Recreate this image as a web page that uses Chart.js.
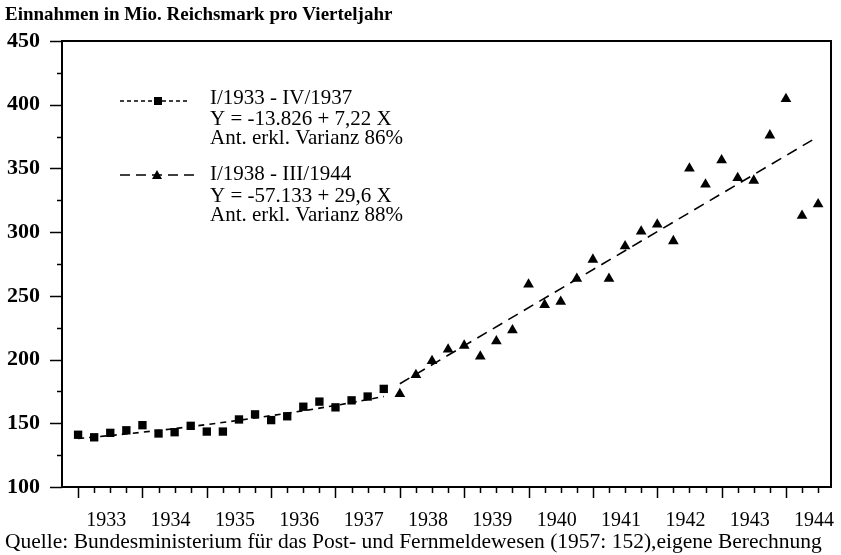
<!DOCTYPE html>
<html>
<head>
<meta charset="utf-8">
<script src="https://cdn.jsdelivr.net/npm/chart.js@4"></script>
<style>
  html, body { margin: 0; padding: 0; background: #fff; }
  #wrap { width: 841px; height: 555px; position: relative; }
</style>
</head>
<body>
<div id="wrap"><canvas id="grafico"></canvas></div>
<script>
// Einnahmen pro Quartal, Index 0 = I/1933
const yearLabels = ['1933', '1934', '1935', '1936', '1937', '1938', '1939', '1940', '1941', '1942', '1943', '1944'];

// I/1933 - IV/1937 (Quadrate)
const revenue1933to1937 = [141, 139, 142.5, 144.5, 148.5, 142, 143, 148, 143.5, 143.5,
                           153, 157, 152.5, 155.5, 163, 167, 162.5, 168, 171, 177];
// I/1938 - III/1944 (Dreiecke)
const revenue1938to1944 = [173, 188, 199, 208, 211, 202.5, 214.5, 223, 259, 243, 245.5, 263.5, 278.5, 263.5,
                           289, 300.5, 306, 293, 350, 337.5, 356.5, 342.5, 340.5, 376, 404.5, 313, 322];

// Trendlinien
const trend1Quarters = [0, 4, 8, 12, 16, 19];
const trend1Values = [138, 143, 149, 156, 164, 171];
const trend2Quarters = [20, 46];
const trend2Values = [181, 375];

const serif = '"Liberation Serif", "Times New Roman", serif';

const squarePoints = revenue1933to1937.map((v, i) => ({ x: i, y: v }));
const trianglePoints = revenue1938to1944.map((v, i) => ({ x: 20 + i, y: v }));
const trend1Points = trend1Quarters.map((q, i) => ({ x: q, y: trend1Values[i] }));
const trend2Points = trend2Quarters.map((q, i) => ({ x: q, y: trend2Values[i] }));

// Rahmen, Teilstriche, Legende, Titel und Quelle
const decor = {
  id: 'decor',
  afterDraw(chart) {
    const { ctx, chartArea: a, scales: { x, y } } = chart;
    ctx.save();
    ctx.strokeStyle = '#000';
    ctx.lineWidth = 2;
    ctx.strokeRect(a.left, a.top, a.right - a.left, a.bottom - a.top);

    // y-Teilstriche: alle 25, lang bei 50
    ctx.lineWidth = 1.5;
    for (let v = 100; v <= 450; v += 25) {
      const py = Math.round(y.getPixelForValue(v)) + 0.5;
      const len = v % 50 === 0 ? 12 : 5;
      ctx.beginPath();
      ctx.moveTo(a.left - len, py);
      ctx.lineTo(a.left, py);
      ctx.stroke();
    }
    // x-Teilstriche: Quartale, lang am Jahresanfang
    for (let q = 0; q <= 46; q++) {
      const px = Math.round(x.getPixelForValue(q)) + 0.5;
      const len = q % 4 === 0 ? 11 : 6;
      ctx.beginPath();
      ctx.moveTo(px, a.bottom);
      ctx.lineTo(px, a.bottom + len);
      ctx.stroke();
    }

    ctx.fillStyle = '#000';
    ctx.textBaseline = 'middle';
    ctx.textAlign = 'left';
    ctx.font = 'bold 19px ' + serif;
    ctx.fillText('Einnahmen in Mio. Reichsmark pro Vierteljahr', 5, 15);
    ctx.font = '21.5px ' + serif;
    ctx.fillText('Quelle: Bundesministerium für das Post- und Fernmeldewesen (1957: 152),eigene Berechnung', 5, 542);

    // Legende
    ctx.lineWidth = 1.5;
    ctx.setLineDash([4, 3]);
    ctx.beginPath(); ctx.moveTo(120, 101); ctx.lineTo(190, 101); ctx.stroke();
    ctx.setLineDash([10, 6]);
    ctx.beginPath(); ctx.moveTo(120, 175); ctx.lineTo(194, 175); ctx.stroke();
    ctx.setLineDash([]);
    ctx.fillRect(154, 97, 8, 8);
    ctx.beginPath();
    ctx.moveTo(157, 170); ctx.lineTo(162, 179); ctx.lineTo(152, 179); ctx.closePath(); ctx.fill();

    ctx.font = '21px ' + serif;
    const lines1 = ['I/1933 - IV/1937', 'Y = -13.826 + 7,22 X', 'Ant. erkl. Varianz 86%'];
    const lines2 = ['I/1938 - III/1944', 'Y = -57.133 + 29,6 X', 'Ant. erkl. Varianz 88%'];
    [98, 119, 138].forEach((ty, i) => ctx.fillText(lines1[i], 210, ty));
    [174, 196, 215].forEach((ty, i) => ctx.fillText(lines2[i], 210, ty));
    ctx.restore();
  }
};

const ctx = document.getElementById('grafico').getContext('2d');
const grafico = new Chart(ctx, {
  type: 'scatter',
  data: {
    datasets: [
      {
        label: 'I/1933 - IV/1937',
        data: squarePoints,
        pointStyle: 'rect',
        pointRadius: 5.9,
        backgroundColor: '#000',
        borderColor: '#000',
        borderWidth: 0
      },
      {
        label: 'I/1938 - III/1944',
        data: trianglePoints,
        pointStyle: 'triangle',
        pointRadius: 6.2,
        backgroundColor: '#000',
        borderColor: '#000',
        borderWidth: 0
      },
      {
        label: 'Trend 1933-1937',
        data: trend1Points,
        showLine: true,
        tension: 0.4,
        pointRadius: 0,
        borderColor: '#000',
        borderWidth: 1.6,
        borderDash: [6, 5]
      },
      {
        label: 'Trend 1938-1944',
        data: trend2Points,
        showLine: true,
        pointRadius: 0,
        borderColor: '#000',
        borderWidth: 1.6,
        borderDash: [11, 7]
      }
    ]
  },
  options: {
    responsive: true,
    maintainAspectRatio: false,
    animation: false,
    layout: { padding: { top: 41, right: 10, bottom: 28, left: 0 } },
    plugins: {
      legend: { display: false },
      tooltip: { enabled: false }
    },
    scales: {
      x: {
        type: 'linear',
        min: -1,
        max: 46.8,
        afterFit: (s) => { s.height = 40; s.paddingLeft = 0; s.paddingRight = 0; },
        afterBuildTicks: (s) => { s.ticks = yearLabels.map((_, i) => ({ value: 4 * i + 1.75 })); },
        grid: { display: false, drawTicks: false },
        border: { display: false },
        ticks: {
          autoSkip: false,
          maxRotation: 0,
          padding: 22,
          color: '#000',
          font: { family: serif, size: 20 },
          callback: (v, i) => yearLabels[i]
        }
      },
      y: {
        min: 100,
        max: 450,
        afterFit: (s) => { s.width = 62; s.paddingTop = 0; s.paddingBottom = 0; },
        grid: { display: false, drawTicks: false },
        border: { display: false },
        ticks: {
          stepSize: 50,
          padding: 22,
          color: '#000',
          font: { family: serif, size: 22, weight: 'bold' }
        }
      }
    }
  },
  plugins: [decor]
});
</script>
</body>
</html>
